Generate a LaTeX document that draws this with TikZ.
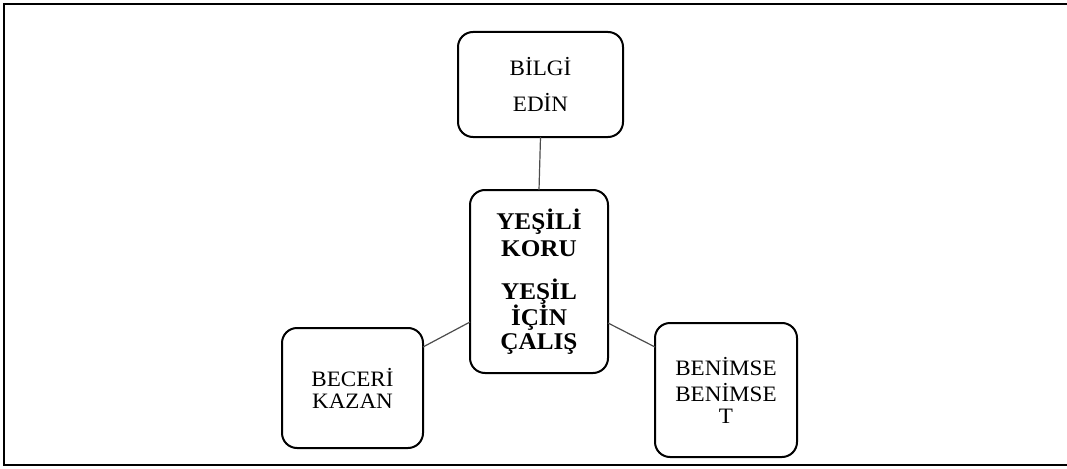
\documentclass[tikz,border=0pt]{standalone}
\usepackage{fontspec}
\setmainfont{Liberation Serif}[FakeStretch=1.05]
\usetikzlibrary{calc}
\tikzset{
  box/.style={draw=black, line width=2pt, rounded corners=15pt, inner sep=0pt, outer sep=0pt, align=center, fill=white},
  normtext/.style={font={\fontsize{22}{22}\selectfont}},
  boldtext/.style={font={\fontsize{24}{24}\selectfont\bfseries}},
  link/.style={draw=black!70, line width=1.2pt},
  frame/.style={draw=black, line width=2pt}
}
\begin{document}
\begin{tikzpicture}[x=1pt,y=-1pt]
\useasboundingbox (0,0) rectangle (1067,468);
\begin{scope}
\clip (0,0) rectangle (1067,468);
\draw[frame] (1075,4) -- (4,4) -- (4,465) -- (1075,465);
\end{scope}
\node[box, normtext, minimum width=165pt, minimum height=105pt] (top) at (540.5,84.5)
  {BİLGİ\\[14pt]EDİN};
\node[box, boldtext, minimum width=138pt, minimum height=183pt] (center) at (539,281.5)
  {YEŞİLİ\\[3pt]KORU\\[19pt]YEŞİL\\İÇİN\\ÇALIŞ};
\node[box, normtext, minimum width=141pt, minimum height=120pt] (left) at (352.5,388)
  {BECERİ\\KAZAN};
\node[box, normtext, minimum width=142pt, minimum height=134pt] (right) at (726,390)
  {BENİMSE\\[4pt]BENİMSE\\T};
\coordinate (lA) at ($(left.north east)+(0,19)$);
\coordinate (cL) at ($(center.north west)+(0,132)$);
\coordinate (cR) at ($(center.north east)+(0,133)$);
\coordinate (rA) at ($(right.north west)+(0,24)$);
\draw[link] (top.south) -- (center.north);
\draw[link] (lA) -- (cL);
\draw[link] (cR) -- (rA);
\end{tikzpicture}
\end{document}
